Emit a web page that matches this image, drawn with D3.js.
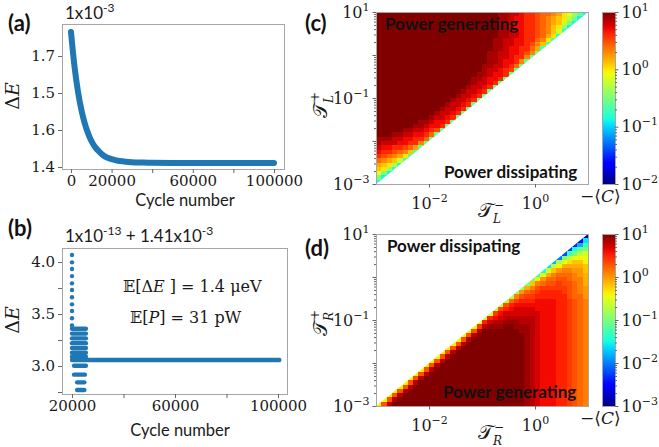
<!DOCTYPE html>
<html><head><meta charset="utf-8">
<script src="https://cdn.jsdelivr.net/npm/d3@7"></script>
<style>body{margin:0;background:#fff}svg{display:block}</style>
</head><body><svg id="fig" width="659" height="447"></svg>
<script>
// ---------------- DATA ----------------
// (a) energy change vs cycle number
const aCycle = [0,1000,2000,3000,4000,5000,6000,7000,8000,9000,10000,12000,14000,16000,18000,20000,23000,26000,30000,35000,40000,50000,60000,70000,80000,90000,100000];
const aDeltaE = [1.765,1.708,1.660,1.620,1.586,1.558,1.534,1.514,1.497,1.483,1.471,1.453,1.441,1.431,1.425,1.421,1.417,1.415,1.413,1.412,1.4113,1.411,1.411,1.411,1.411,1.411,1.411];
const aYTicks = [1.4,1.5,1.6,1.7];
const aYTickLabels = ["1.4","1.6","1.5","1.7"];
const aXTicks = [0,20000,40000,60000,80000,100000];
const aXTickLabels = ["0","20000","","60000","","100000"];

// (b) zoomed scatter: rows of dots (value, first cycle, last cycle)
const bRowValue = [4.067,3.997,3.933,3.865,3.795,3.731,3.661,3.593,3.529,3.459,3.391,
                   3.358,3.312,3.266,3.220,3.174,3.128,3.090,3.058,3.003,2.917,2.843,2.769];
const bRowStart = [20000,20000,20000,20000,20000,20000,20000,20000,20000,20000,20000,
                   20000,20000,20000,20000,20000,20000,20000,20000,20800,20800,22000,22000];
const bRowEnd   = [20000,20000,20000,20000,20000,20000,20000,20000,20000,20000,20000,
                   25400,25400,25400,25400,25400,25400,25400,100500,25400,25000,24800,24800];
const bYTicks = [2.75,3.0,3.25,3.5,3.75,4.0];
const bYTickLabels = ["","3.0","","3.5","","4.0"];
const bXTicks = [20000,40000,60000,80000,100000];
const bXTickLabels = ["20000","","60000","","100000"];

// heat maps: log10(-<C>) on a 40x40 grid, 0.1 decade cells from 1e-3 to 1e1
// symbol alphabet: index k -> log10 value -3 + 0.1k ; '.' = no data ; digits = run length
const levelSymbols = "#$%&*+=?@^abcdefghijklmnopqrstuvwxyzABCDE";
const gridLogMin = -3, gridStep = 0.1, gridN = 40;
// (c) rows, top (T+ = 10^1) to bottom, each left (T- = 1e-3) to right
const cRows = [
"23EDDCCBAAzyyxwutqol",
"23EDDCBBAAzyxwvurpl.",
"23EDDCBBAAzyxwvspl2.",
"23EDDCBBAAzyxvuql3.",
"23EDDCCBAAzyxvsm4.",
"23EDDCCBAAzywum5.",
"22EDDCCBBAAyxun6.",
"22EDDCCBBAzxvn7.",
"22EDDCBBAAywn8.",
"21EDDCCBBAzxo9.",
"21EDDCCBAAxo10.",
"21EDDCBBAxo11.",
"20EDDCCBAyo12.",
"20EDCCBAzo13.",
"19EDDCBBAo14.",
"18EDDCBBAo15.",
"18EDCCBAo16.",
"17EDCCBAo17.",
"16EDCCBAo18.",
"15EDCCBAo19.",
"14EDCCBAo20.",
"13EDCCBAo21.",
"12EDCCBAo22.",
"11EDCCBAo23.",
"10EDCCBAo24.",
"8EDDCBBAo25.",
"7EDDCBBAo26.",
"5EDDCCBAzo27.",
"3EDDCCBBAyo28.",
"DDDCCBBAAyo29.",
"DCCCBBAAxo30.",
"CBBAAzywo31.",
"BAAzyxvn32.",
"Azyxwun33.",
"yxwvsn34.",
"wvurm35.",
"vuqm36.",
"tpl37.",
"pl38.",
"l39."
];
// (d) columns, left (T- = 1e-3) to right, each top (T+ = 10^1) to bottom
const dCols = [
"39.q","38.qx","37.qxC","36.qxCE","35.qxC2E","34.qxC3E","33.qxC4E","32.qxC5E",
"31.qxC6E","30.qxC7E","29.qxC8E","28.qxC9E","27.qxC10E","26.qxC11E","25.qxC12E","24.qxC13E",
"23.qxC14E","22.qxC15E","21.pxC16E","20.pyC17E","19.ozC18E","18.ozBD18E","17.nyACD18E","16.nxABCD18E",
"15.mxzBCD19E","14.mwzABCD19E","13.lvyABBCDD18E","12.luxzABBCCDD17E","11.ktwyzABBCCD18D","10.jsvxyzABBC20C","9.hqvxyzAAAB21B","8.fpuwyzzA24A",
"7.eotwxyzz25A","6.cnsvwxyzzA24A","5.amquwxyyzz25z","4.@kptvwxxyyz25z","3.?hnrtvwwxxxxy24y","2.=fkpstuvvwwwwx24x",".*cinqstuuvvvvww24w","%ehkopqsstttuuu25v"
];
const cColorTicks = [1e-2,1e-1,1,10];
const dColorTicks = [1e-3,1e-2,1e-1,1,10];
const heatLogTicks = [1e-3,1e-2,1e-1,1,10];

// ---------------- HELPERS ----------------
const SANS = "Lato, 'Open Sans', sans-serif";
const SERIF = "'DejaVu Serif', serif";
const BLUE = "#1f77b4";
const TXT = "#1a1a1a";
const svg = d3.select("#fig");
const defs = svg.append("defs");

function decode(s){
  const out=[]; const re=/(\d*)(\D)/g; let m;
  while((m=re.exec(s))){ const n=m[1]?+m[1]:1; for(let i=0;i<n;i++) out.push(m[2]); }
  return out;
}
const jetR=d3.scaleLinear().domain([0,0.35,0.66,0.89,1]).range([0,0,1,1,0.5]).clamp(true);
const jetG=d3.scaleLinear().domain([0,0.125,0.375,0.64,0.91,1]).range([0,0,1,1,0,0]).clamp(true);
const jetB=d3.scaleLinear().domain([0,0.11,0.34,0.65,1]).range([0.5,1,1,0,0]).clamp(true);
function jet(t){t=Math.max(0,Math.min(1,t));return d3.rgb(jetR(t)*255,jetG(t)*255,jetB(t)*255).toString();}

function supText(sel, base, exp, baseSize, expSize, rise){
  sel.text(null);
  sel.append("tspan").text(base).attr("font-size",baseSize);
  sel.append("tspan").text(exp).attr("font-size",expSize).attr("dy",-rise);
}
function expStr(v){const e=Math.round(Math.log10(v));return e<0?"\u2212"+(-e):""+e;}

function frame(x0,y0,x1,y1){
  svg.append("rect").attr("x",x0+0.5).attr("y",y0+0.5).attr("width",x1-x0).attr("height",y1-y0)
    .attr("fill","none").attr("stroke","#a6a6a6").attr("stroke-width",1);
}
function styleAxis(g,size){
  g.select("path.domain").remove();
  g.selectAll(".tick line").attr("stroke","#666");
  g.selectAll(".tick text").attr("font-family",SERIF).attr("font-size",size||15).attr("fill",TXT);
}
function panelLabel(t,x,y){
  svg.append("text").attr("x",x).attr("y",y).attr("font-family",SANS).attr("font-weight","bold")
    .attr("font-size",22).attr("fill","#111").text(t);
}
function deltaE(x,y){
  const t=svg.append("text").attr("transform",`translate(${x},${y}) rotate(-90)`).attr("text-anchor","middle")
    .attr("font-family",SERIF).attr("font-size",19).attr("fill",TXT);
  t.append("tspan").text("\u0394");
  t.append("tspan").attr("font-style","italic").text("E");
}
function cycleLabel(x,y){
  svg.append("text").attr("x",x).attr("y",y).attr("text-anchor","middle").attr("font-family",SANS)
    .attr("font-size",16.5).attr("fill",TXT).text("Cycle number");
}
// script T with stacked superscript and subscript, drawn in a local frame
function scriptT(x,y,rot,sup,sub){
  const g=svg.append("g").attr("transform",`translate(${x},${y}) rotate(${rot})`)
    .attr("font-family",SERIF).attr("fill",TXT);
  g.append("text").attr("x",0).attr("y",0).attr("font-size",20).text("\u{1D4AF}");
  g.append("text").attr("x",16).attr("y",-8).attr("font-size",12).text(sup);
  g.append("text").attr("x",15).attr("y",6).attr("font-size",12).attr("font-style","italic").text(sub);
}

// ---------------- PANEL (a) ----------------
const xA=d3.scaleLinear().domain([-4430,104930]).range([62,284]);
const yA=d3.scaleLinear().domain([1.3946,1.7865]).range([169,24]);
frame(62,24,284,169);
svg.append("path").datum(aCycle.map((c,i)=>[c,aDeltaE[i]]))
  .attr("d",d3.line().x(d=>xA(d[0])).y(d=>yA(d[1])).curve(d3.curveMonotoneX))
  .attr("fill","none").attr("stroke",BLUE).attr("stroke-width",6).attr("stroke-linecap","round");
svg.append("g").attr("transform","translate(62,0)")
  .call(d3.axisLeft(yA).tickValues(aYTicks).tickFormat((d,i)=>aYTickLabels[i]).tickSize(4).tickPadding(3))
  .call(g=>styleAxis(g,15));
svg.append("g").attr("transform","translate(0,169)")
  .call(d3.axisBottom(xA).tickValues(aXTicks).tickFormat((d,i)=>aXTickLabels[i]).tickSize(4).tickPadding(2))
  .call(g=>styleAxis(g,15));
panelLabel("(a)",8,31);
supText(svg.append("text").attr("x",65).attr("y",19).attr("font-family",SANS).attr("fill",TXT),"1x10","-3",17,12,7);
deltaE(19,96);
cycleLabel(185,206);

// ---------------- PANEL (b) ----------------
const xB=d3.scaleLinear().domain([16117,103495]).range([62,287]);
const yB=d3.scaleLinear().domain([2.731,4.135]).range([394,248]);
frame(62,248,287,394);
svg.append("g").selectAll("line").data(bRowValue).join("line")
  .attr("x1",(v,i)=>xB(bRowStart[i])).attr("x2",(v,i)=>xB(bRowEnd[i]))
  .attr("y1",v=>yB(v)).attr("y2",v=>yB(v))
  .attr("stroke",BLUE).attr("stroke-width",4.4).attr("stroke-linecap","round");
svg.append("g").attr("transform","translate(62,0)")
  .call(d3.axisLeft(yB).tickValues(bYTicks).tickFormat((d,i)=>bYTickLabels[i]).tickSize(4).tickPadding(3))
  .call(g=>styleAxis(g,15));
svg.append("g").attr("transform","translate(0,394)")
  .call(d3.axisBottom(xB).tickValues(bXTicks).tickFormat((d,i)=>bXTickLabels[i]).tickSize(4).tickPadding(2))
  .call(g=>styleAxis(g,15));
panelLabel("(b)",8,236);
{
  const t=svg.append("text").attr("x",65).attr("y",242).attr("font-family",SANS).attr("fill",TXT).attr("font-size",17);
  t.append("tspan").text("1x10");
  t.append("tspan").text("-13").attr("font-size",12).attr("dy",-7);
  t.append("tspan").text(" + 1.41x10").attr("dy",7);
  t.append("tspan").text("-3").attr("font-size",12).attr("dy",-7);
}
{
  const t1=svg.append("text").attr("x",123).attr("y",292).attr("font-family",SERIF).attr("font-size",16).attr("fill",TXT);
  t1.append("tspan").text("\u{1D53C}[\u0394");
  t1.append("tspan").attr("font-style","italic").text("E");
  t1.append("tspan").text(" ] = 1.4 \u03BCeV");
  const t2=svg.append("text").attr("x",130).attr("y",323).attr("font-family",SERIF).attr("font-size",16).attr("fill",TXT);
  t2.append("tspan").text("\u{1D53C}[");
  t2.append("tspan").attr("font-style","italic").text("P");
  t2.append("tspan").text("] = 31 pW");
}
deltaE(19,320);
cycleLabel(180,436);

// ---------------- HEAT MAPS ----------------
function heatCells(grid, byColumns){
  const cells=[];
  grid.forEach((s,a)=>{
    decode(s).forEach((ch,b)=>{
      if(ch===".") return;
      const col=byColumns?a:b, row=byColumns?b:a;
      cells.push({lx:gridLogMin+gridStep*col, ly:gridLogMin+gridStep*(gridN-1-row), v:gridLogMin+gridStep*levelSymbols.indexOf(ch)});
    });
  });
  return cells;
}
function heatPanel(cfg){
  const {id,grid,byColumns,upper,y0,y1,vmin,vmax,colorTicks,sub,onTop,onBottom,cbLabelY,yLabelY} = cfg;
  const x=d3.scaleLog().domain([1e-3,1e1]).range([376,588]);
  const y=d3.scaleLog().domain([1e-3,1e1]).range([y1,y0]);
  const color=v=>jet((v-vmin)/(vmax-vmin));
  // the quantity is defined only on one side of the diagonal T+ = T-
  const tri = upper ? [[1e-3,1e-3],[1e-3,1e1],[1e1,1e1]] : [[1e-3,1e-3],[1e1,1e-3],[1e1,1e1]];
  defs.append("clipPath").attr("id","clip"+id).append("polygon")
    .attr("points",tri.map(p=>[x(p[0]),y(p[1])].join(",")).join(" "));
  svg.append("g").attr("clip-path",`url(#clip${id})`).attr("shape-rendering","crispEdges")
    .selectAll("rect").data(heatCells(grid,byColumns)).join("rect")
    .attr("x",d=>x(Math.pow(10,d.lx))).attr("y",d=>y(Math.pow(10,d.ly+gridStep)))
    .attr("width",d=>x(Math.pow(10,d.lx+gridStep))-x(Math.pow(10,d.lx))+0.4)
    .attr("height",d=>y(Math.pow(10,d.ly))-y(Math.pow(10,d.ly+gridStep))+0.4)
    .attr("fill",d=>color(d.v));
  frame(376,y0,588,y1);
  const minor=[];
  for(let e=-3;e<1;e++) for(let m=2;m<10;m++) minor.push(m*Math.pow(10,e));
  svg.append("g").attr("transform","translate(376,0)")
    .call(d3.axisLeft(y).tickValues(minor).tickFormat("").tickSize(2)).call(g=>styleAxis(g));
  svg.append("g").attr("transform","translate(376,0)")
    .call(d3.axisLeft(y).tickValues(heatLogTicks).tickSize(3.5).tickPadding(3).tickFormat(""))
    .call(g=>{styleAxis(g,16);
      g.selectAll(".tick text").each(function(d){ const e=Math.round(Math.log10(d)); if(e===1||e===-1||e===-3) supText(d3.select(this),"10",expStr(d),16,11,7); });
    });
  svg.append("g").attr("transform",`translate(0,${y1})`)
    .call(d3.axisBottom(x).tickValues([1e-2,1]).tickSize(3.5).tickPadding(5).tickFormat(""))
    .call(g=>{styleAxis(g,16); g.selectAll(".tick text").each(function(d){ supText(d3.select(this),"10",expStr(d),16,11,7); }).attr("dy","1em");});
  // axis labels
  scriptT(478, y1+33, 0, "\u2212", sub);
  scriptT(327, yLabelY, -90, "+", sub);
  // colorbar
  const cb=d3.scaleLog().domain([Math.pow(10,vmin),Math.pow(10,vmax)]).range([y1,y0]);
  const grad=defs.append("linearGradient").attr("id","grad"+id).attr("x1",0).attr("y1",1).attr("x2",0).attr("y2",0);
  d3.range(0,1.0001,0.02).forEach(t=>grad.append("stop").attr("offset",t).attr("stop-color",jet(t)));
  svg.append("rect").attr("x",602).attr("y",y0).attr("width",13).attr("height",y1-y0).attr("fill",`url(#grad${id})`);
  frame(602,y0,615,y1);
  const cbMinor=[];
  for(let e=vmin;e<vmax;e++) for(let m=2;m<10;m++) cbMinor.push(m*Math.pow(10,e));
  svg.append("g").attr("transform","translate(615,0)").call(d3.axisRight(cb).tickValues(cbMinor).tickFormat("").tickSize(2)).call(g=>styleAxis(g));
  svg.append("g").attr("transform","translate(615,0)")
    .call(d3.axisRight(cb).tickValues(colorTicks).tickSize(3.5).tickPadding(3).tickFormat(""))
    .call(g=>{styleAxis(g,16); g.selectAll(".tick text").each(function(d){ supText(d3.select(this),"10",expStr(d),16,11,7); });});
  const cl=svg.append("text").attr("x",580).attr("y",cbLabelY).attr("font-family",SERIF).attr("font-size",17).attr("fill",TXT);
  cl.append("tspan").text("\u2212\u27E8");
  cl.append("tspan").attr("font-style","italic").text("C");
  cl.append("tspan").text("\u27E9");
  const ann=(t,xx,yy)=>svg.append("text").attr("x",xx).attr("y",yy).attr("font-family",SANS).attr("font-weight","bold").attr("font-size",17).attr("fill","#111").text(t);
  ann(onTop[0],onTop[1],onTop[2]); ann(onBottom[0],onBottom[1],onBottom[2]);
}
heatPanel({id:"c",grid:cRows,byColumns:false,upper:true,y0:12,y1:184,vmin:-2,vmax:1,colorTicks:cColorTicks,sub:"L",
  onTop:["Power generating",385,30],onBottom:["Power dissipating",444,178],cbLabelY:202,yLabelY:118});
heatPanel({id:"d",grid:dCols,byColumns:true,upper:false,y0:234,y1:406,vmin:-3,vmax:1,colorTicks:dColorTicks,sub:"R",
  onTop:["Power dissipating",387,252],onBottom:["Power generating",443,398],cbLabelY:424,yLabelY:336});
panelLabel("(c)",305,31);
panelLabel("(d)",305,256);
</script></body></html>
